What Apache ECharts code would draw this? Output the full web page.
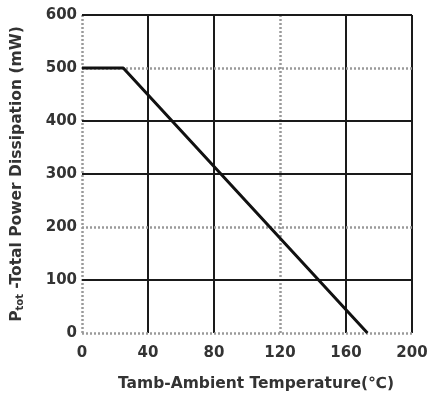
<!DOCTYPE html>
<html>
<head>
<meta charset="utf-8">
<script src="https://cdn.jsdelivr.net/npm/echarts@6/dist/echarts.min.js"></script>
<style>
  html, body { margin: 0; padding: 0; background: #fff; }
  #chart { width: 430px; height: 399px; }
</style>
</head>
<body>
<div id="chart"></div>
<script>
// Power derating curve: total power dissipation vs ambient temperature
const temperature = [0, 25, 173];          // °C
const powerDissipation = [500, 500, 0];    // mW

const xTicks = [0, 40, 80, 120, 160, 200];
const yTicks = [0, 100, 200, 300, 400, 500, 600];

// Grid lines that are drawn light and dotted; the rest are solid dark
const xDottedTicks = [0, 120];
const yDottedTicks = [0, 200, 500];

const solidStyle = { color: '#1a1a1a', width: 2, type: 'solid' };
const dottedStyle = { color: '#9a9a9a', width: 2.5, type: [2, 2] };

const gridLines = [];
xTicks.forEach(v => gridLines.push({
  xAxis: v,
  lineStyle: xDottedTicks.includes(v) ? dottedStyle : solidStyle
}));
yTicks.forEach(v => gridLines.push({
  yAxis: v,
  lineStyle: yDottedTicks.includes(v) ? dottedStyle : solidStyle
}));

const fontFamily = 'DejaVu Sans, sans-serif';
const textColor = '#333';

const chart = echarts.init(document.getElementById('chart'));
chart.setOption({
  animation: false,
  backgroundColor: '#fff',
  grid: { left: 82, right: 18, top: 15, bottom: 66, outerBoundsMode: 'none' },
  xAxis: {
    type: 'value',
    min: 0, max: 200, interval: 40,
    name: 'Tamb-Ambient Temperature(℃)',
    nameLocation: 'middle',
    nameGap: 43,
    nameTextStyle: { fontFamily, fontSize: 15.5, fontWeight: 'bold', color: textColor, padding: [0, 0, 0, 18] },
    axisLine: { show: false },
    axisTick: { show: false },
    splitLine: { show: false },
    axisLabel: { fontFamily, fontSize: 15, fontWeight: 'bold', color: textColor, margin: 13 }
  },
  yAxis: {
    type: 'value',
    min: 0, max: 600, interval: 100,
    name: '{p|P}{s|tot}{p| -Total Power Dissipation (mW)}',
    nameLocation: 'middle',
    nameGap: 57,
    nameTextStyle: {
      rich: {
        p: { fontFamily, fontSize: 15.5, fontWeight: 'bold', color: textColor },
        s: { fontFamily, fontSize: 10, fontWeight: 'bold', color: textColor, verticalAlign: 'bottom', padding: [6, 0, 0, 0] }
      }
    },
    axisLine: { show: false },
    axisTick: { show: false },
    splitLine: { show: false },
    axisLabel: { fontFamily, fontSize: 15, fontWeight: 'bold', color: textColor, margin: 5 }
  },
  series: [
    {
      type: 'line',
      data: [],
      silent: true,
      markLine: {
        silent: true,
        symbol: 'none',
        label: { show: false },
        data: gridLines
      }
    },
    {
      type: 'line',
      data: temperature.map((t, i) => [t, powerDissipation[i]]),
      showSymbol: false,
      lineStyle: { color: '#111', width: 3 },
      z: 5
    }
  ]
});
</script>
</body>
</html>
